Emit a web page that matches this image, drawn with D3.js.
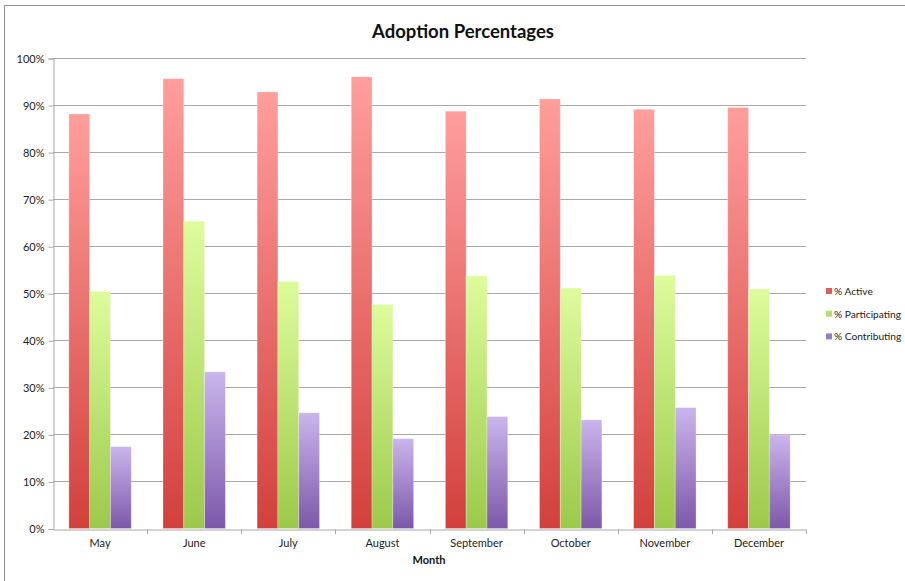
<!DOCTYPE html>
<html>
<head>
<meta charset="utf-8">
<script src="https://cdn.jsdelivr.net/npm/d3@7"></script>
<style>
  html, body { margin: 0; padding: 0; background: #fff; }
  svg { display: block; font-family: Lato, "Open Sans", sans-serif; }
</style>
</head>
<body>
<svg id="chart" width="905" height="581"></svg>
<script>
const months = ["May","June","July","August","September","October","November","December"];
const seriesNames = ["% Active","% Participating","% Contributing"];
const active = [88.1, 95.6, 92.8, 96.0, 88.7, 91.3, 89.1, 89.5];
const participating = [50.4, 65.3, 52.5, 47.6, 53.7, 51.1, 53.8, 50.9];
const contributing = [17.4, 33.3, 24.6, 19.1, 23.8, 23.1, 25.7, 19.9];
const yTicks = [0,10,20,30,40,50,60,70,80,90,100];
const chartTitle = "Adoption Percentages";
const xTitle = "Month";

const seriesValues = [active, participating, contributing];
const gradStops = [
  ["#ff9e9c", "#d2403d"],
  ["#ddfc9c", "#9cc94a"],
  ["#cab5ec", "#7c58a9"]
];
const legendColors = ["#e4595a", "#b5e06e", "#9a7bc9"];

const svg = d3.select("#chart");
const margin = {left: 53, right: 99, top: 58, bottom: 52.5};
const W = 905, H = 581;

const x = d3.scaleBand().domain(months).range([margin.left, W - margin.right]).paddingInner(0).paddingOuter(0);
const xs = d3.scaleBand().domain(d3.range(3)).range([0, x.bandwidth()]).paddingInner(0).paddingOuter(0.762);
const y = d3.scaleLinear().domain([0, 100]).range([H - margin.bottom, margin.top]);

// defs gradients (per bar)
const defs = svg.append("defs");
gradStops.forEach((s, i) => {
  const g = defs.append("linearGradient").attr("id", "g" + i)
    .attr("x1", 0).attr("x2", 0).attr("y1", 0).attr("y2", 1);
  g.append("stop").attr("offset", "0%").attr("stop-color", s[0]);
  g.append("stop").attr("offset", "100%").attr("stop-color", s[1]);
});

// outer border (top & left)
svg.append("line").attr("x1", 4.5).attr("x2", W).attr("y1", 5.5).attr("y2", 5.5).attr("stroke", "#8f8f8f");
svg.append("line").attr("x1", 4.5).attr("x2", 4.5).attr("y1", 5.5).attr("y2", H).attr("stroke", "#8f8f8f");

// title
svg.append("text").attr("x", 463).attr("y", 38).attr("text-anchor", "middle")
  .attr("font-size", 18.5).attr("font-weight", "bold").attr("fill", "#111").text(chartTitle);

// grid lines
svg.append("g").selectAll("line").data(yTicks.slice(1)).join("line")
  .attr("x1", margin.left).attr("x2", W - margin.right)
  .attr("y1", d => Math.round(y(d)) + 0.5).attr("y2", d => Math.round(y(d)) + 0.5)
  .attr("stroke", "#a8a8a8").attr("stroke-width", 1);

// y axis
const yAxis = d3.axisLeft(y).tickValues(yTicks).tickFormat(d => d + "%").tickSize(5).tickPadding(4);
const gy = svg.append("g").attr("transform", `translate(${margin.left + 0.5},0.5)`).call(yAxis);
gy.select(".domain").attr("stroke", "#a8a8a8");
gy.selectAll(".tick line").attr("stroke", "#a8a8a8");
gy.selectAll(".tick text").attr("font-size", 11).attr("fill", "#222").attr("font-family", "Lato, sans-serif");

// bars
const groups = svg.append("g").selectAll("g").data(months).join("g")
  .attr("transform", d => `translate(${x(d)},0)`);
seriesValues.forEach((vals, si) => {
  groups.append("rect")
    .attr("x", xs(si))
    .attr("width", xs.bandwidth())
    .attr("y", (d, i) => y(vals[i]))
    .attr("height", (d, i) => y(0) - y(vals[i]))
    .attr("fill", `url(#g${si})`)
    .attr("stroke", "rgba(255,255,255,0.35)")
    .attr("stroke-width", 0.8);
});

// x axis
const xAxis = d3.axisBottom(x).tickSize(0).tickPadding(10);
const gx = svg.append("g").attr("transform", `translate(0,${Math.round(y(0)) + 0.5})`).call(xAxis);
gx.select(".domain").attr("stroke", "#a8a8a8");
gx.selectAll(".tick text").attr("font-size", 11).attr("fill", "#222").attr("font-family", "Lato, sans-serif");
// boundary ticks
svg.append("g").selectAll("line").data(months.slice(1).concat(["__end"])).join("line")
  .attr("x1", d => Math.round(d === "__end" ? x.range()[1] : x(d)) + 0.5)
  .attr("x2", d => Math.round(d === "__end" ? x.range()[1] : x(d)) + 0.5)
  .attr("y1", Math.round(y(0)) + 0.5).attr("y2", Math.round(y(0)) + 5)
  .attr("stroke", "#a8a8a8");

// x title
svg.append("text").attr("x", 429).attr("y", 564).attr("text-anchor", "middle")
  .attr("font-size", 11).attr("font-weight", "bold").attr("fill", "#111").text(xTitle);

// legend
const leg = svg.append("g").selectAll("g").data(seriesNames).join("g")
  .attr("transform", (d, i) => `translate(826,${291 + i * 22.7})`);
leg.append("rect").attr("x", 0).attr("y", -3).attr("width", 6).attr("height", 6)
  .attr("fill", (d, i) => legendColors[i]);
leg.append("text").attr("x", 8).attr("y", 4).attr("font-size", 10.2).attr("fill", "#222").text(d => d);
</script>
</body>
</html>
